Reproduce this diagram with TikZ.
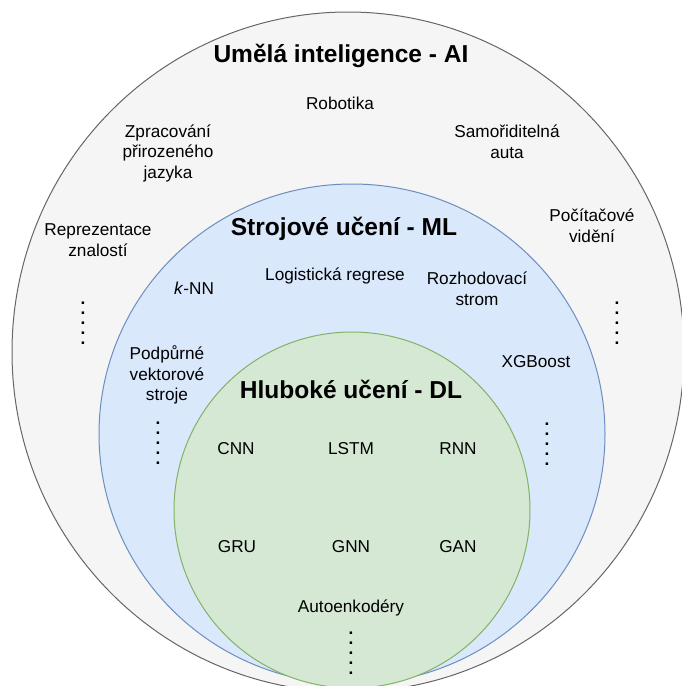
\documentclass[tikz,border=0pt]{standalone}
\usepackage{fontspec}
\setmainfont{Liberation Sans}

\definecolor{aiFill}{RGB}{245,245,245}
\definecolor{aiLine}{RGB}{102,102,102}
\definecolor{mlFill}{RGB}{218,232,252}
\definecolor{mlLine}{RGB}{108,142,191}
\definecolor{dlFill}{RGB}{213,232,212}
\definecolor{dlLine}{RGB}{130,179,102}

\tikzset{every picture/.style={line width=0.75pt}}
\tikzset{
  title/.style={font=\fontsize{18.4}{22}\selectfont\bfseries, inner sep=0pt},
  label/.style={font=\fontsize{12.9}{15.4}\selectfont, align=center, inner sep=0pt},
  vdots/.style={font=\fontsize{12.9}{7.4}\selectfont\bfseries, align=center, inner sep=0pt}
}

\begin{document}
\begin{tikzpicture}[x=0.75pt,y=0.75pt,yscale=-1,xscale=1]
	\useasboundingbox (0,0) rectangle (682,686);

	%Shape: Ellipse [id:ai]
	\draw [color=aiLine, fill=aiFill] (348,352) ellipse (336 and 340);
	%Shape: Ellipse [id:ml]
	\draw [color=mlLine, fill=mlFill] (352,434) ellipse (253 and 250);
	%Shape: Ellipse [id:dl]
	\draw [color=dlLine, fill=dlFill] (352,510) ellipse (178 and 178);

	% Text Node
	\node [title] (ai) at (341,56) {Umělá inteligence - AI};
	% Text Node
	\node [label] (robot) at (340,103) {Robotika};
	% Text Node
	\node [label] (nlp) at (168,153) {Zpracování\\přirozeného\\jazyka};
	% Text Node
	\node [label] (auta) at (507,142) {Samořiditelná\\auta};
	% Text Node
	\node [label] (repr) at (98,240) {Reprezentace\\znalostí};
	% Text Node
	\node [label] (cv) at (592,226) {Počítačové\\vidění};
	% Text Node
	\node [vdots] (aidotsL) at (83,323) {.\\.\\.\\.\\.};
	% Text Node
	\node [vdots] (aidotsR) at (617,323) {.\\.\\.\\.\\.};

	% Text Node
	\node [title] (ml) at (344,229) {Strojové učení - ML};
	% Text Node
	\node [label] (knn) at (194,288) {\textit{k}-NN};
	% Text Node
	\node [label] (logreg) at (335,276) {Logistická regrese};
	% Text Node
	\node [label] (strom) at (477,289) {Rozhodovací\\strom};
	% Text Node
	\node [label] (svm) at (167,375) {Podpůrné\\vektorové\\stroje};
	% Text Node
	\node [label] (xgb) at (536,362) {XGBoost};
	% Text Node
	\node [vdots] (mldotsL) at (158,443) {.\\.\\.\\.\\.};
	% Text Node
	\node [vdots] (mldotsR) at (547,444) {.\\.\\.\\.\\.};

	% Text Node
	\node [title] (dl) at (351,389) {Hluboké učení - DL};
	% Text Node
	\node [label] (cnn) at (236,449) {CNN};
	% Text Node
	\node [label] (lstm) at (351,449) {LSTM};
	% Text Node
	\node [label] (rnn) at (458,449) {RNN};
	% Text Node
	\node [label] (gru) at (237,547) {GRU};
	% Text Node
	\node [label] (gnn) at (351,547) {GNN};
	% Text Node
	\node [label] (gan) at (458,547) {GAN};
	% Text Node
	\node [label] (ae) at (351,608) {Autoenkodéry};
	% Text Node
	\node [vdots] (dldots) at (351,653) {.\\.\\.\\.\\.};

\end{tikzpicture}
\end{document}
